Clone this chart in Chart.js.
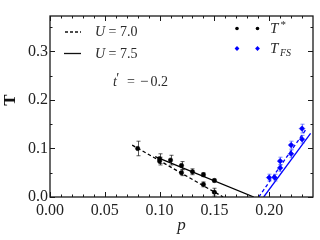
<!DOCTYPE html>
<html><head><meta charset="utf-8">
<script src="https://cdn.jsdelivr.net/npm/chart.js@4"></script>
<style>html,body{margin:0;padding:0;background:#fff;}canvas{display:block;}</style>
</head><body>
<canvas id="c" width="320" height="240"></canvas>
<script>
// ---- axis ticks ----
const xTicks = [0, 0.05, 0.10, 0.15, 0.20];
const xTickLabels = ['0.00', '0.05', '0.10', '0.15', '0.20'];
const xMinor = [0.01,0.02,0.03,0.04,0.06,0.07,0.08,0.09,0.11,0.12,0.13,0.14,0.16,0.17,0.18,0.19,0.21,0.22,0.23];
const yTicks = [0, 0.1, 0.2, 0.3];
const yTickLabels = ['0.0', '0.1', '0.2', '0.3'];
const yMinor = [0.05, 0.15, 0.25, 0.35];

// ---- T* data ----
const pStar70 = [0.08, 0.10, 0.12, 0.14, 0.15];
const tStar70 = [0.100, 0.074, 0.050, 0.026, 0.010];
const eStar70 = [0.015, 0.008, 0.006, 0.005, 0.008];
const pStar75 = [0.10, 0.11, 0.12, 0.13, 0.14, 0.15];
const tStar75 = [0.079, 0.076, 0.065, 0.052, 0.046, 0.034];
const eStar75 = [0.010, 0.010, 0.008, 0.006, 0.004, 0.003];

// ---- T_FS data ----
const pFS70 = [0.200, 0.210, 0.220, 0.230];
const tFS70 = [0.040, 0.074, 0.107, 0.141];
const eFS70 = [0.007, 0.008, 0.008, 0.009];
const pFS75 = [0.205, 0.210, 0.220, 0.230];
const tFS75 = [0.040, 0.060, 0.089, 0.119];
const eFS75 = [0.007, 0.007, 0.008, 0.008];

// ---- linear fits (end points) ----
const fitStar70P = [0.075, 0.158], fitStar70T = [0.107, 0.0];
const fitStar75P = [0.096, 0.186], fitStar75T = [0.083, 0.0];
const fitFS70P = [0.1905, 0.2335], fitFS70T = [0.0, 0.139];
const fitFS75P = [0.195, 0.2378], fitFS75T = [0.0, 0.131];

const zip = (xs, ys) => xs.map((x, i) => ({x, y: ys[i]}));
const BLUE = '#0000ff';
const INK = '#1a1a1a';
const SERIF = '"Liberation Serif", "Times New Roman", serif';

function lineDs(p, t, color, dash) {
  return {type: 'scatter', data: zip(p, t), showLine: true, borderColor: color, borderWidth: 1.3,
    borderDash: dash, pointRadius: 0, pointHoverRadius: 0, fill: false, order: 2};
}
function ptDs(p, t, e, color, style, r) {
  return {type: 'scatter', data: zip(p, t), errors: e, errColor: color === BLUE ? 'rgba(40,60,255,0.6)' : 'rgba(0,0,0,0.65)',
    pointStyle: style, pointRadius: r, pointBackgroundColor: color, pointBorderColor: color, pointBorderWidth: 0.5, showLine: false, order: 1};
}

const errorBars = {
  id: 'errorBars',
  beforeDatasetDraw(chart, args) {
    const ds = chart.data.datasets[args.index];
    if (!ds.errors) return;
    const xs = chart.scales.x, ys = chart.scales.y, ctx = chart.ctx;
    ctx.save();
    ctx.strokeStyle = ds.errColor; ctx.lineWidth = 1;
    ds.data.forEach((pt, i) => {
      const px = Math.round(xs.getPixelForValue(pt.x)) + 0.5;
      const y1 = ys.getPixelForValue(pt.y + ds.errors[i]);
      const y2 = ys.getPixelForValue(pt.y - ds.errors[i]);
      ctx.beginPath();
      ctx.moveTo(px, y1); ctx.lineTo(px, y2);
      ctx.moveTo(px - 2, y1); ctx.lineTo(px + 2, y1);
      ctx.moveTo(px - 2, y2); ctx.lineTo(px + 2, y2);
      ctx.stroke();
    });
    ctx.restore();
  }
};

const frameTicks = {
  id: 'frameTicks',
  afterDraw(chart) {
    const {ctx, chartArea: a} = chart;
    const xs = chart.scales.x, ys = chart.scales.y;
    ctx.save();
    ctx.strokeStyle = INK; ctx.lineWidth = 1;
    const tick = (vals, len, isX) => {
      vals.forEach(v => {
        ctx.beginPath();
        if (isX) {
          const p = Math.round(xs.getPixelForValue(v)) + 0.5;
          ctx.moveTo(p, a.bottom); ctx.lineTo(p, a.bottom - len);
          ctx.moveTo(p, a.top); ctx.lineTo(p, a.top + len);
        } else {
          const p = Math.round(ys.getPixelForValue(v)) + 0.5;
          ctx.moveTo(a.left, p); ctx.lineTo(a.left + len, p);
          ctx.moveTo(a.right, p); ctx.lineTo(a.right - len, p);
        }
        ctx.stroke();
      });
    };
    tick(xTicks, 5, true); tick(xMinor, 2.5, true);
    tick(yTicks, 5, false); tick(yMinor, 2.5, false);
    ctx.lineWidth = 1.3;
    ctx.strokeRect(a.left, a.top, a.right - a.left, a.bottom - a.top);
    ctx.restore();
  }
};

const annotations = {
  id: 'annotations',
  afterDraw(chart) {
    const ctx = chart.ctx;
    ctx.save();
    ctx.fillStyle = '#2a2a2a'; ctx.textBaseline = 'middle'; ctx.textAlign = 'left';
    const rm = '14px ' + SERIF;
    const itf = 'italic 14px ' + SERIF;
    // y-axis title
    ctx.save();
    ctx.translate(11, 100); ctx.rotate(-Math.PI / 2);
    ctx.textAlign = 'center'; ctx.font = 'bold 17px ' + SERIF; ctx.fillStyle = '#111';
    ctx.fillText('T', 0, 0);
    ctx.restore();
    // left legend: line samples
    ctx.strokeStyle = '#111'; ctx.lineWidth = 1.3;
    ctx.setLineDash([3, 2]);
    ctx.beginPath(); ctx.moveTo(65, 32); ctx.lineTo(81, 32); ctx.stroke();
    ctx.setLineDash([]);
    ctx.beginPath(); ctx.moveTo(64, 53.5); ctx.lineTo(81, 53.5); ctx.stroke();
    const uLabel = (y, val) => {
      ctx.font = itf; ctx.fillText('U', 95, y);
      ctx.font = rm; ctx.fillText('=', 108.5, y); ctx.fillText(val, 120, y);
    };
    uLabel(32.5, '7.0');
    uLabel(54, '7.5');
    // t' = -0.2
    ctx.font = itf; ctx.fillText('t', 113, 82);
    ctx.font = rm; ctx.fillText('\u2032', 116.2, 79.5); ctx.fillText('=', 127, 82);
    ctx.font = '15px ' + SERIF; ctx.fillText('\u2212', 140, 82);
    ctx.font = rm; ctx.fillText('0.2', 150.5, 82);
    // right legend markers
    const xsM = [237, 257.5];
    ctx.fillStyle = '#000';
    xsM.forEach(x => { ctx.beginPath(); ctx.arc(x, 28.5, 1.8, 0, Math.PI * 2); ctx.fill(); });
    ctx.fillStyle = BLUE;
    xsM.forEach(x => { ctx.beginPath(); ctx.moveTo(x, 46); ctx.lineTo(x + 2.4, 48.5); ctx.lineTo(x, 51); ctx.lineTo(x - 2.4, 48.5); ctx.closePath(); ctx.fill(); });
    ctx.fillStyle = '#2a2a2a';
    ctx.font = 'italic 15px ' + SERIF; ctx.fillText('T', 270, 29);
    ctx.font = '11px ' + SERIF; ctx.fillText('*', 280.5, 25);
    ctx.font = 'italic 15px ' + SERIF; ctx.fillText('T', 270, 49);
    ctx.font = 'italic 10px ' + SERIF; ctx.fillText('FS', 280, 53);
    ctx.restore();
  }
};

Chart.defaults.color = '#222';
new Chart(document.getElementById('c'), {
  type: 'scatter',
  data: {
    datasets: [
      lineDs(fitStar70P, fitStar70T, '#000', [3.5, 2.5]),
      lineDs(fitStar75P, fitStar75T, '#000', []),
      lineDs(fitFS70P, fitFS70T, BLUE, [3.5, 2.5]),
      lineDs(fitFS75P, fitFS75T, BLUE, []),
      ptDs(pStar70, tStar70, eStar70, '#000', 'circle', 2.2),
      ptDs(pStar75, tStar75, eStar75, '#000', 'circle', 2.2),
      ptDs(pFS70, tFS70, eFS70, BLUE, 'rectRot', 2.8),
      ptDs(pFS75, tFS75, eFS75, BLUE, 'rectRot', 2.8)
    ]
  },
  options: {
    responsive: false, animation: false, events: [],
    layout: {padding: {top: 16, right: 7, left: 0, bottom: 0}},
    plugins: {legend: {display: false}, tooltip: {enabled: false}},
    scales: {
      x: {
        type: 'linear', min: 0, max: 0.24,
        afterBuildTicks: s => { s.ticks = xTicks.map(v => ({value: v})); },
        afterFit: s => { s.height = 43; },
        grid: {display: false, drawTicks: false},
        border: {display: false},
        ticks: {autoSkip: false, maxRotation: 0, padding: 4, font: {family: SERIF, size: 16},
          callback: (v, i) => xTickLabels[i]},
        title: {display: true, text: 'p', font: {family: SERIF, size: 17, style: 'italic'}, padding: {top: 0, bottom: 4}}
      },
      y: {
        type: 'linear', min: 0, max: 0.373,
        afterBuildTicks: s => { s.ticks = yTicks.map(v => ({value: v})); },
        afterFit: s => { s.width = 50; },
        grid: {display: false, drawTicks: false},
        border: {display: false},
        ticks: {autoSkip: false, padding: 2, font: {family: SERIF, size: 16},
          callback: (v, i) => yTickLabels[i]},
        title: {display: false}
      }
    }
  },
  plugins: [errorBars, frameTicks, annotations]
});
</script>
</body></html>
